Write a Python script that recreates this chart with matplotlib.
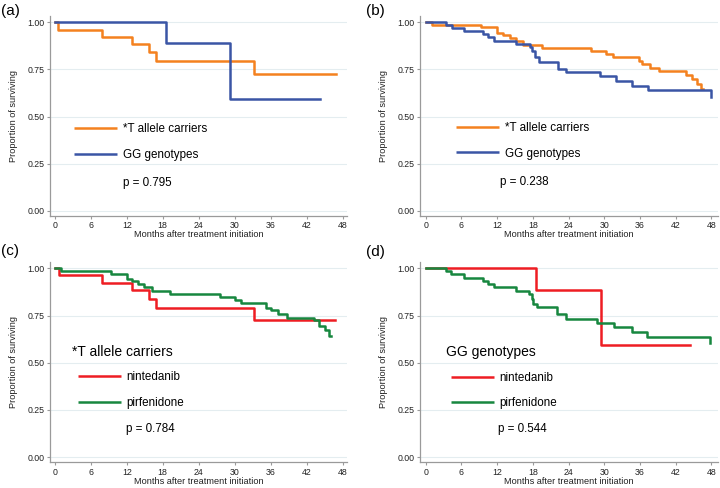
import matplotlib

matplotlib.use("Agg")
import matplotlib.pyplot as plt  # noqa: E402
from matplotlib.lines import Line2D  # noqa: E402

plt.rcParams["font.family"] = ["Liberation Sans", "DejaVu Sans"]

# --------------------------------------------------------------------------- #
# Kaplan-Meier step data (months, proportion surviving)
# --------------------------------------------------------------------------- #
# (a) all patients on nintedanib by genotype
a_t_time = [0, 0.56, 7.9, 12.9, 15.7, 16.85, 33.3, 46.9]
a_t_surv = [1.0, 0.961, 0.924, 0.886, 0.841, 0.794, 0.726, 0.726]
a_gg_time = [0, 18.6, 29.3, 44.3]
a_gg_surv = [1.0, 0.888, 0.592, 0.592]

# (b) all patients on pirfenidone by genotype
b_t_time = [0, 1.1, 9.3, 12.0, 12.9, 14.2, 15.2, 16.4, 19.5, 27.8, 30.3, 31.4,
            35.8, 36.4, 37.6, 39.2, 43.8, 44.8, 45.6, 46.2, 46.6]
b_t_surv = [1.0, 0.986, 0.973, 0.945, 0.931, 0.915, 0.900, 0.882, 0.864, 0.847,
            0.833, 0.815, 0.796, 0.780, 0.758, 0.741, 0.722, 0.697, 0.673, 0.645, 0.645]
b_gg_time = [0, 3.4, 4.4, 6.5, 9.7, 10.5, 11.4, 15.2, 17.6, 17.9, 18.4, 19.0,
             22.2, 23.6, 29.2, 31.9, 34.7, 37.3, 48.0]
b_gg_surv = [1.0, 0.986, 0.970, 0.954, 0.936, 0.920, 0.902, 0.885, 0.868, 0.850,
             0.818, 0.792, 0.752, 0.736, 0.713, 0.689, 0.664, 0.639, 0.602]

# (c) *T allele carriers by drug
c_nin_time = [0, 0.7, 7.9, 12.8, 15.8, 16.9, 33.2, 46.8]
c_nin_surv = [1.0, 0.963, 0.924, 0.885, 0.839, 0.791, 0.727, 0.727]
c_pir_time = [0, 1.1, 9.3, 12.0, 12.8, 13.9, 14.9, 16.2, 19.2, 27.5, 30.0, 31.1,
              35.3, 36.0, 37.2, 38.7, 43.2, 44.0, 45.0, 45.7, 46.1]
c_pir_surv = [1.0, 0.986, 0.972, 0.945, 0.931, 0.915, 0.901, 0.880, 0.866, 0.848,
              0.830, 0.816, 0.790, 0.777, 0.760, 0.738, 0.724, 0.697, 0.672, 0.644, 0.644]

# (d) GG genotypes by drug
d_nin_time = [0, 18.5, 29.4, 44.4]
d_nin_surv = [1.0, 0.887, 0.593, 0.593]
d_pir_time = [0, 3.4, 4.2, 6.5, 9.7, 10.5, 11.4, 15.2, 17.4, 17.8, 18.1, 18.7,
              22.1, 23.5, 28.8, 31.7, 34.6, 37.1, 47.8]
d_pir_surv = [1.0, 0.986, 0.968, 0.950, 0.934, 0.918, 0.900, 0.882, 0.865, 0.840,
              0.812, 0.793, 0.756, 0.733, 0.711, 0.688, 0.662, 0.637, 0.605]

p_values = ["p = 0.795", "p = 0.238", "p = 0.784", "p = 0.544"]
panel_tags = ["(a)", "(b)", "(c)", "(d)"]
x_ticks = [0, 6, 12, 18, 24, 30, 36, 42, 48]
y_ticks = [0.0, 0.25, 0.50, 0.75, 1.00]

ORANGE = "#F4811F"
BLUE = "#3A55A5"
RED = "#EE1D23"
GREEN = "#17873F"
SPINE = "#9a9a9a"
GRID = "#e4edf0"

W, H = 720, 488


def add_axes_px(fig, left, top, right, bottom):
    return fig.add_axes([left / W, 1 - bottom / H, (right - left) / W, (bottom - top) / H])


def style_axes(ax, xlim):
    ax.set_xlim(*xlim)
    ax.set_ylim(-0.028, 1.034)
    ax.set_xticks(x_ticks)
    ax.set_yticks(y_ticks)
    ax.set_yticklabels([f"{v:.2f}" for v in y_ticks])
    for side in ("top", "right"):
        ax.spines[side].set_visible(False)
    for side in ("left", "bottom"):
        ax.spines[side].set_color(SPINE)
        ax.spines[side].set_linewidth(0.9)
    ax.tick_params(length=2.2, width=0.8, color=SPINE, labelsize=6.3,
                   labelcolor="#222222", pad=1.6)
    ax.yaxis.grid(True, color=GRID, lw=0.8)
    ax.set_axisbelow(True)
    ax.set_ylabel("Proportion of surviving", fontsize=6.6, labelpad=7, color="#222222")
    ax.set_xlabel("Months after treatment initiation", fontsize=6.6, labelpad=0,
                  color="#222222")


def legend_at(ax, colors, labels, x, y_mid):
    handles = [Line2D([], [], color=c, lw=1.8, solid_capstyle="butt") for c in colors]
    ax.legend(handles, labels, loc="center left", bbox_to_anchor=(x, y_mid),
              bbox_transform=ax.transData, frameon=False, borderpad=0,
              borderaxespad=0, handlelength=3.7, handletextpad=0.5,
              labelspacing=1.15, fontsize=8.4)


fig = plt.figure(figsize=(W / 100, H / 100), dpi=100)

left_xlim = (-0.8, 48.7)
right_xlim = (-0.96, 49.1)

ax_a = add_axes_px(fig, 50, 16, 346.7, 216)
ax_b = add_axes_px(fig, 420, 16, 718, 216)
ax_c = add_axes_px(fig, 50, 262, 346.7, 462.3)
ax_d = add_axes_px(fig, 420, 262, 718, 462.3)

lw = 1.8
# (a)
style_axes(ax_a, left_xlim)
ax_a.step(a_t_time, a_t_surv, where="post", color=ORANGE, lw=lw)
ax_a.step(a_gg_time, a_gg_surv, where="post", color=BLUE, lw=lw)
legend_at(ax_a, [ORANGE, BLUE], ["*T allele carriers", "GG genotypes"], 3.2, 0.364)
ax_a.text(11.3, 0.148, p_values[0], fontsize=8.4, va="center", ha="left")

# (b)
style_axes(ax_b, right_xlim)
ax_b.step(b_t_time, b_t_surv, where="post", color=ORANGE, lw=lw)
ax_b.step(b_gg_time, b_gg_surv, where="post", color=BLUE, lw=lw)
legend_at(ax_b, [ORANGE, BLUE], ["*T allele carriers", "GG genotypes"], 5.05, 0.371)
ax_b.text(12.5, 0.154, p_values[1], fontsize=8.4, va="center", ha="left")

# (c)
style_axes(ax_c, left_xlim)
ax_c.step(c_nin_time, c_nin_surv, where="post", color=RED, lw=lw)
ax_c.step(c_pir_time, c_pir_surv, where="post", color=GREEN, lw=lw)
ax_c.text(2.95, 0.557, "*T allele carriers", fontsize=10, va="center", ha="left")
legend_at(ax_c, [RED, GREEN], ["nintedanib", "pirfenidone"], 3.8, 0.356)
ax_c.text(11.8, 0.150, p_values[2], fontsize=8.4, va="center", ha="left")

# (d)
style_axes(ax_d, right_xlim)
ax_d.step(d_nin_time, d_nin_surv, where="post", color=RED, lw=lw)
ax_d.step(d_pir_time, d_pir_surv, where="post", color=GREEN, lw=lw)
ax_d.text(3.4, 0.557, "GG genotypes", fontsize=10, va="center", ha="left")
legend_at(ax_d, [RED, GREEN], ["nintedanib", "pirfenidone"], 4.2, 0.353)
ax_d.text(12.2, 0.150, p_values[3], fontsize=8.4, va="center", ha="left")

tag_pos = [(1.5, 10.5), (366, 10.5), (1.5, 251), (366, 252)]
for tag, (px, py) in zip(panel_tags, tag_pos):
    fig.text(px / W, 1 - py / H, tag, fontsize=11, va="center", ha="left")

fig.savefig("out.png", dpi=100)
plt.close(fig)
